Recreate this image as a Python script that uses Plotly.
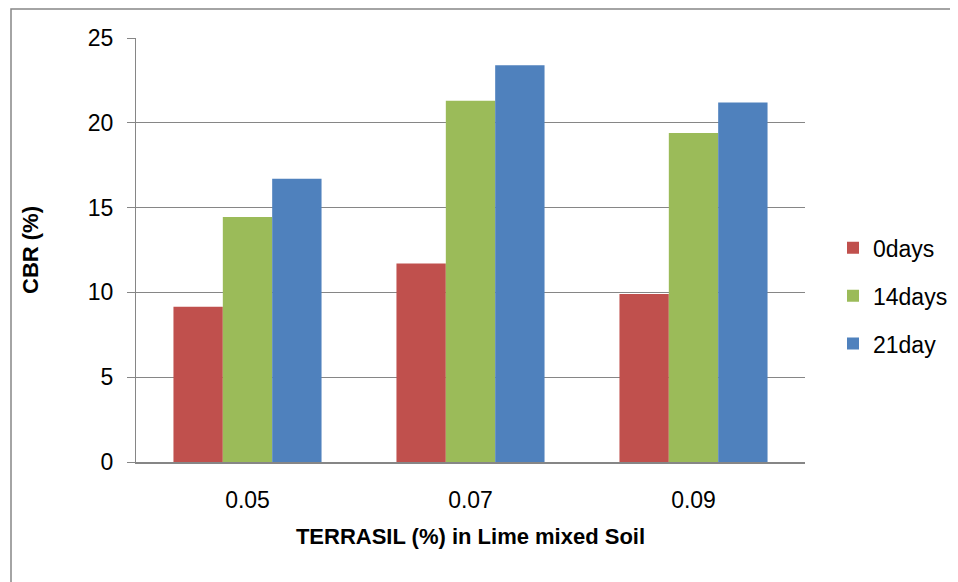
import plotly.graph_objects as go

categories = ["0.05", "0.07", "0.09"]
series_names = ["0days", "14days", "21day"]
days0 = [9.15, 11.7, 9.9]
days14 = [14.45, 21.3, 19.4]
days21 = [16.7, 23.4, 21.2]
colors = ["#C0504D", "#9BBB59", "#4F81BD"]
y_ticks = [0, 5, 10, 15, 20, 25]

OFF = 8  # page body offset
W, H = 958 - OFF, 582 - OFF
ml, mr, mt, mb = 136 - OFF, 958 - 805, 38 - OFF, 582 - 462
pw, ph = W - ml - mr, H - mt - mb

fig = go.Figure()
for name, vals, col in zip(series_names, [days0, days14, days21], colors):
    fig.add_trace(go.Bar(x=categories, y=vals, name=name, marker_color=col,
                         marker_line_width=0, legendgroup=name))

font = "Liberation Sans, sans-serif"
fig.update_layout(
    width=W, height=H,
    margin=dict(l=ml, r=mr, t=mt, b=mb, autoexpand=False),
    paper_bgcolor="white", plot_bgcolor="white",
    barmode="group", bargap=0.336, bargroupgap=0,
    font=dict(family=font, size=22, color="black"),
    showlegend=True,
    legend=dict(x=1.0 + (833 - 805) / pw, xanchor="left", y=0.392, yanchor="middle",
                font=dict(size=23), tracegroupgap=15, itemwidth=30,
                bgcolor="rgba(0,0,0,0)"),
    xaxis=dict(type="category", showline=True, linecolor="#868686", linewidth=2,
               ticks="", tickfont=dict(size=23), ticklabelstandoff=16,
               title=dict(text="<b>TERRASIL (%) in Lime mixed Soil</b>", font=dict(size=22), standoff=17)),
    yaxis=dict(range=[0, 25], tickvals=y_ticks, showgrid=True, gridcolor="#868686", gridwidth=1.3,
               showline=True, linecolor="#868686", linewidth=1.3, ticks="outside", ticklen=8,
               tickcolor="#868686", tickfont=dict(size=23), zeroline=False, ticklabelstandoff=9,
               title=dict(text="<b>CBR (%)</b>", font=dict(size=22), standoff=42)),
    shapes=[dict(type="rect", xref="paper", yref="paper",
                 x0=(11 - OFF - ml) / pw, x1=(953 - OFF - ml) / pw,
                 y0=-(600 - (H - mb)) / ph, y1=1 + (mt - (9 - OFF)) / ph,
                 line=dict(color="#868686", width=1.5), fillcolor="rgba(0,0,0,0)", layer="below")],
)
fig.write_html("out.html")
